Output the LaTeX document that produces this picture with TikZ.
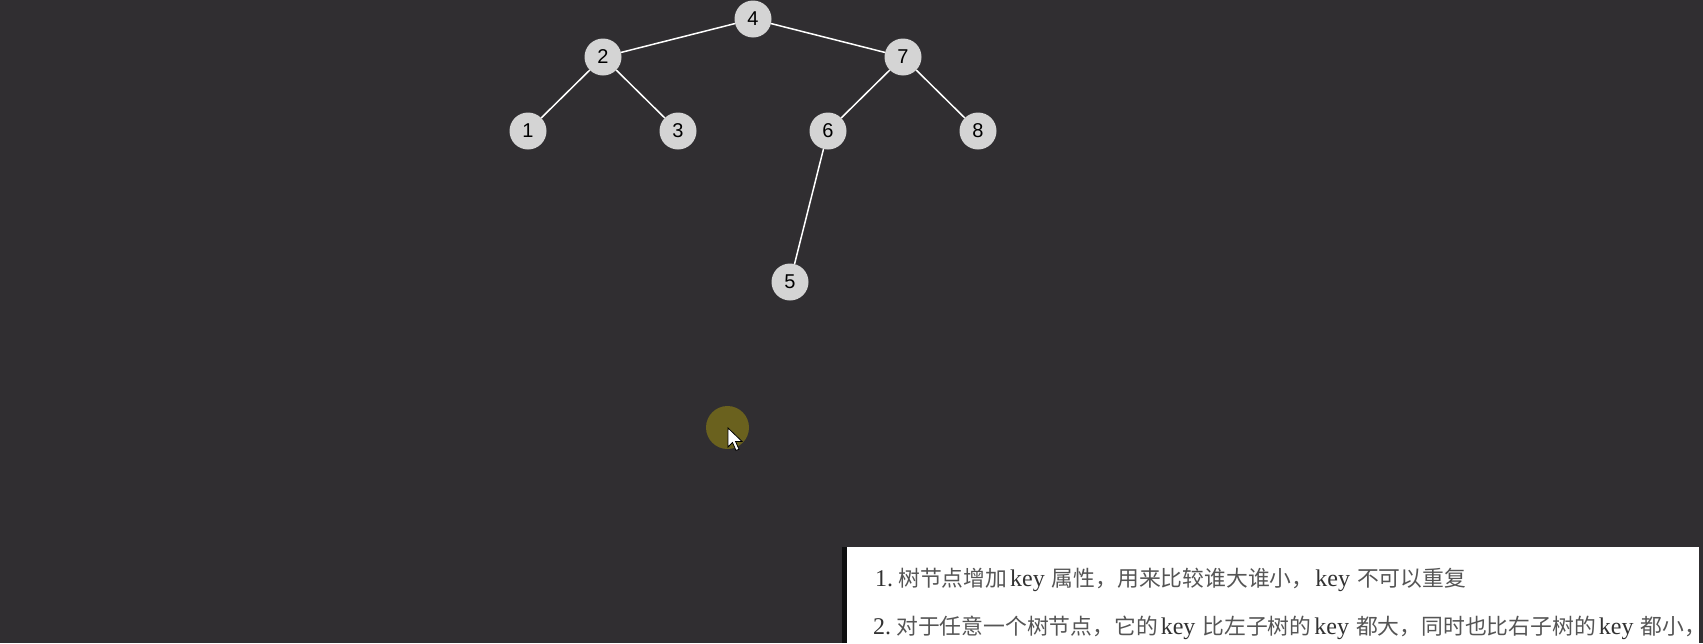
\documentclass[tikz,border=0pt]{standalone}
\usepackage{fontspec}
\setmainfont{Liberation Serif}
\newfontfamily\cjk{Noto Sans CJK SC}
\newfontfamily\numfont{Liberation Sans}
\definecolor{bg}{RGB}{48,46,49}
\definecolor{nodefill}{RGB}{212,212,212}
\definecolor{hilite}{RGB}{106,97,30}
\definecolor{txtgray}{RGB}{85,85,85}
\definecolor{keygray}{RGB}{50,50,50}
\newcommand\kw[1]{{\fontsize{24}{24}\selectfont\rmfamily\color{keygray}#1}}
\newcommand\kwd[1]{\hspace{3pt}\kw{#1}\hspace{7pt}}
\tikzset{
  tnode/.style={circle, fill=nodefill, minimum size=37pt, inner sep=0pt,
    font=\numfont\fontsize{20}{20}\selectfont, text=black},
  tedge/.style={draw=white, line width=1.5pt},
  txt/.style={anchor=base west, inner sep=0pt, text=txtgray,
    font=\cjk\fontsize{21.8}{21.8}\selectfont}
}
\begin{document}
\begin{tikzpicture}[x=1pt,y=-1pt]
\useasboundingbox (0,0) rectangle (1703,643);
\fill[bg] (0,0) rectangle (1703,643);
% tree nodes
\node[tnode] (n4) at (753,19) {4};
\node[tnode] (n2) at (603,57) {2};
\node[tnode] (n7) at (903,57) {7};
\node[tnode] (n1) at (528,131) {1};
\node[tnode] (n3) at (678,131) {3};
\node[tnode] (n6) at (828,131) {6};
\node[tnode] (n8) at (978,131) {8};
\node[tnode] (n5) at (790,282) {5};
\draw[tedge] (n4) -- (n2);
\draw[tedge] (n4) -- (n7);
\draw[tedge] (n2) -- (n1);
\draw[tedge] (n2) -- (n3);
\draw[tedge] (n7) -- (n6);
\draw[tedge] (n7) -- (n8);
\draw[tedge] (n6) -- (n5);
% cursor highlight
\fill[hilite] (727.5,427.5) circle (21.5);
\coordinate (tip) at (728,428);
\draw[fill=white, draw=black, line width=0.8pt, line join=miter]
  (tip) -- ++(0,19) -- ++(4.5,-4.5) -- ++(3.5,8) -- ++(3,-1.3) -- ++(-3.5,-7.8)
  -- ++(6.5,0) -- cycle;
% note box
\fill[black!70!bg] (842,547) rectangle (847,643);
\fill[white] (847,547) rectangle (1699,643);
\begin{scope}
\clip (847,547) rectangle (1699,643);
\node[txt] (l1) at (875,586) {\kw{1.}\hspace{5pt}树节点增加\kwd{key}属性，用来比较谁大谁小，\hspace{2pt}\kw{key}\hspace{7pt}不可以重复};
\node[txt] (l2) at (873,634) {\kw{2.}\hspace{5pt}对于任意一个树节点，它的\kwd{key}比左子树的\kwd{key}都大，同时也比右子树的\kwd{key}都小，};
\end{scope}
\end{tikzpicture}
\end{document}
